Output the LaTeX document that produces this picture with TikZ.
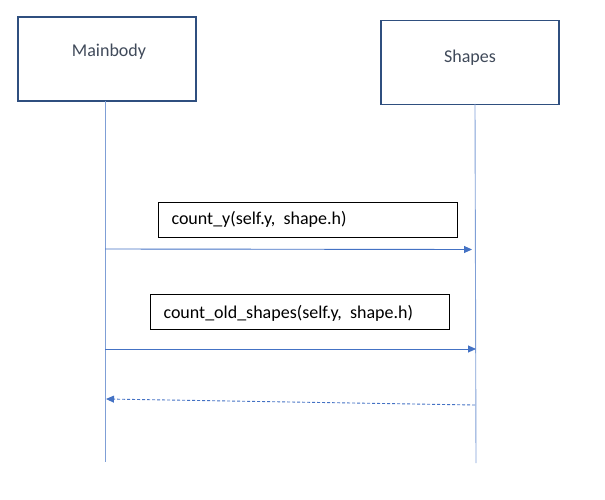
\documentclass[tikz,border=0pt]{standalone}
\usepackage{fontspec}
\setmainfont{Carlito}
\usetikzlibrary{arrows.meta}
\definecolor{boxblue}{HTML}{2F4F7F}
\definecolor{lifeblue}{HTML}{7F9FD6}
\definecolor{arrblue}{HTML}{4472C4}
\definecolor{txtgray}{HTML}{404A5A}
\begin{document}
\begin{tikzpicture}[x=1pt,y=-1pt,
  actor/.style={draw=boxblue,line width=1.8pt,fill=white,minimum width=178pt,minimum height=84pt,inner sep=0pt},
  msgbox/.style={draw=black,line width=0.8pt,minimum width=299pt,minimum height=35pt,inner sep=0pt},
  life/.style={draw=lifeblue,line width=0.9pt},
  lbl/.style={font=\fontsize{18}{21}\selectfont},
  msg/.style={draw=arrblue,line width=0.9pt,-{Triangle[length=8pt,width=7pt]}},
  ret/.style={msg,dashed,dash pattern=on 3pt off 2pt}]
\useasboundingbox (0,0) rectangle (605,500);
\node[actor] (mb) at (107,59) {};
\node[lbl,text=txtgray] (mbt) at (109,52) {Mainbody};
\node[actor] (sh) at (470,62.5) {};
\node[lbl,text=txtgray] (sht) at (470,58) {Shapes};
\coordinate (mbtop) at (105,101);
\coordinate (mbbot) at (105,462);
\coordinate (shtop) at (475,104);
\coordinate (shbot) at (476,463);
\draw[life] (mbtop) -- (mbbot);
\draw[life] (shtop) -- (shbot);
\node[msgbox] (b1) at (307.5,219.5) {};
\node[lbl,anchor=west] (t1) at (168,219) {count\_y(self.y,\ \ shape.h)};
\node[msgbox] (b2) at (299.5,312) {};
\node[lbl,anchor=west] (t2) at (160,313) {count\_old\_shapes(self.y,\ \ shape.h)};
\coordinate (a1s) at (105,249);
\coordinate (a1e) at (472,249.5);
\coordinate (a2s) at (105,349);
\coordinate (a2e) at (476,349);
\coordinate (a3s) at (475,405);
\coordinate (a3e) at (106,399);
\draw[msg] (a1s) -- (a1e);
\draw[msg] (a2s) -- (a2e);
\draw[ret] (a3s) -- (a3e);
\end{tikzpicture}
\end{document}
